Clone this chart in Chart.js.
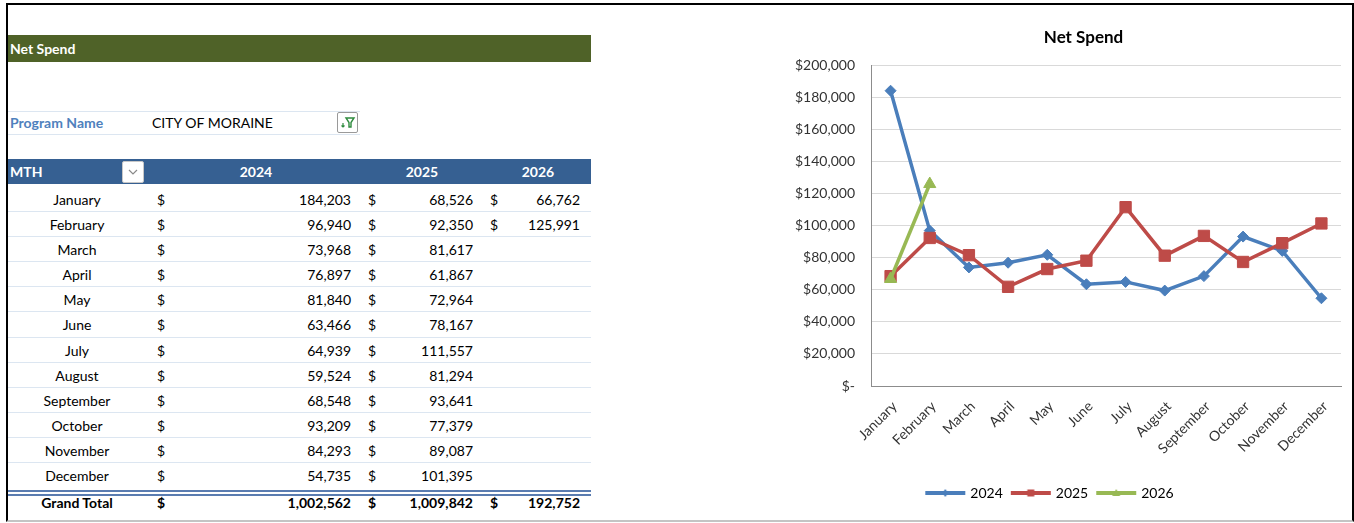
<!DOCTYPE html>
<html>
<head>
<meta charset="utf-8">
<script src="https://cdn.jsdelivr.net/npm/chart.js@4"></script>
<style>
  html, body { margin: 0; padding: 0; background: #fff; width: 1354px; height: 523px; overflow: hidden;
    font-family: Lato, "Open Sans", sans-serif; font-size: 14px; color: #000; }
  .abs { position: absolute; white-space: nowrap; }
  #frame { position: absolute; left: 6px; top: 3px; width: 1344px; height: 515px;
    border: 2px solid #000; border-bottom: 2px solid #c4c4c4; pointer-events: none; z-index: 5; }
  #band { left: 8px; top: 35px; width: 583px; height: 27px; background: #4F6228; color: #fff;
    font-weight: bold; line-height: 27px; padding-left: 2px; box-sizing: border-box; }
  #prog { left: 8px; top: 111px; width: 352px; height: 22px; border-top: 1px solid #DCE6F1; border-bottom: 1px solid #DCE6F1; }
  .btn { background: #fff; border: 1px solid #9a9a9a; border-radius: 2px; box-sizing: border-box; }
  #head { left: 8px; top: 159px; width: 583px; height: 25px; background: #366092; }
  .hd { color: #fff; font-weight: bold; line-height: 25px; top: 159px; }
  .row { left: 8px; width: 583px; border-bottom: 1px solid #DCE6F1; box-sizing: border-box; }
  #chartBox { left: 760px; top: 10px; }
</style>
</head>
<body>
<div id="frame"></div>
<div class="abs" id="band">Net Spend</div>
<div class="abs" id="prog"></div>
<div class="abs" style="left:10px;top:111px;line-height:24px;color:#4F81BD;font-weight:bold;">Program Name</div>
<div class="abs" style="left:152px;top:111px;line-height:24px;">CITY OF MORAINE</div>
<div class="abs btn" style="left:337px;top:112px;width:21px;height:21px;">
  <svg width="19" height="19" viewBox="0 0 19 19">
    <path d="M8 5 L16 5 L13 9.5 L13 14 L11 14 L11 9.5 Z" fill="none" stroke="#2E8B3E" stroke-width="1.4"/>
    <path d="M5 10 L5 14 M3.5 12.5 L5 14 L6.5 12.5" fill="none" stroke="#2E8B3E" stroke-width="1.2"/>
  </svg>
</div>
<div class="abs" id="head"></div>
<div class="abs hd" style="left:10px;">MTH</div>
<div class="abs btn" style="left:122px;top:161px;width:22px;height:22px;border-color:#c8c8c8;">
  <svg width="20" height="20" viewBox="0 0 20 20"><path d="M6 8 L10 12 L14 8" fill="none" stroke="#8a8a8a" stroke-width="1.2"/></svg>
</div>
<div id="rows"></div>
<div class="abs" id="chartBox"><canvas id="chart" width="592" height="505"></canvas></div>

<script>
const months = ['January', 'February', 'March', 'April', 'May', 'June', 'July',
  'August', 'September', 'October', 'November', 'December'];
const years = ['2024', '2025', '2026'];
const spend2024 = [184203, 96940, 73968, 76897, 81840, 63466, 64939, 59524, 68548, 93209, 84293, 54735];
const spend2025 = [68526, 92350, 81617, 61867, 72964, 78167, 111557, 81294, 93641, 77379, 89087, 101395];
const spend2026 = [66762, 125991];
const grandTotals = [1002562, 1009842, 192752];

const fmt = v => v.toLocaleString('en-US');

// pivot table
const rows = document.getElementById('rows');
const headCenters = [256, 422, 538];
years.forEach((y, i) => {
  rows.insertAdjacentHTML('beforeend',
    `<div class="abs hd" style="left:${headCenters[i] - 40}px;width:80px;text-align:center;">${y}</div>`);
});
const dollarX = [157, 368, 490];
const valueEnd = [351, 473, 580];
const series = [spend2024, spend2025, spend2026];
function addRow(top, h, name, vals, bold, sep) {
  let html = `<div class="abs row" style="top:${top}px;height:${h}px;${sep ? '' : 'border-bottom:none;'}"></div>`;
  const st = `top:${top}px;line-height:${h}px;${bold ? 'font-weight:bold;' : ''}`;
  html += `<div class="abs" style="${st}left:6px;width:142px;text-align:center;">${name}</div>`;
  vals.forEach((v, i) => {
    if (v === undefined) return;
    html += `<div class="abs" style="${st}left:${dollarX[i]}px;">$</div>`;
    html += `<div class="abs" style="${st}left:${valueEnd[i] - 120}px;width:120px;text-align:right;">${fmt(v)}</div>`;
  });
  rows.insertAdjacentHTML('beforeend', html);
}
const rowH = 25.18;
months.forEach((m, i) => {
  addRow(186.5 + i * rowH, rowH, m, series.map(s => s[i]), false, i < months.length - 1);
});
rows.insertAdjacentHTML('beforeend',
  '<div class="abs" style="left:8px;top:490px;width:583px;height:2px;background:#5A7CB0;"></div>' +
  '<div class="abs" style="left:8px;top:494px;width:583px;height:2px;background:#5A7CB0;"></div>');
addRow(490, 25, 'Grand Total', grandTotals, true, false);

// chart
const colors = ['#4A7EBB', '#BE4B48', '#98B954'];

function legendIcon(i) {
  const c = document.createElement('canvas');
  c.width = 42; c.height = 12;
  const g = c.getContext('2d');
  g.strokeStyle = colors[i]; g.fillStyle = colors[i]; g.lineWidth = 4;
  g.beginPath(); g.moveTo(1, 6); g.lineTo(41, 6); g.stroke();
  g.beginPath();
  if (i === 0) { g.moveTo(21, 2); g.lineTo(24, 6); g.lineTo(21, 10); g.lineTo(18, 6); }
  else if (i === 1) { g.rect(17.5, 2.5, 7, 7); }
  else { g.moveTo(21, 2); g.lineTo(25, 9); g.lineTo(17, 9); }
  g.closePath(); g.fill();
  return c;
}
const icons = [0, 1, 2].map(legendIcon);

// Excel puts the title a little right of the legend centre
const shiftTitle = {
  id: 'shiftTitle',
  afterLayout(chart) {
    const t = chart.titleBlock;
    if (t) { t.left += 33; t.right += 33; }
  }
};

Chart.defaults.font.family = 'Lato, "Open Sans", sans-serif';

new Chart(document.getElementById('chart'), {
  type: 'line',
  data: {
    labels: months,
    datasets: [
      { label: years[0], data: spend2024, borderColor: colors[0], backgroundColor: colors[0],
        pointStyle: 'rectRot', pointRadius: 5.5, order: 3 },
      { label: years[1], data: spend2025, borderColor: colors[1], backgroundColor: colors[1],
        pointStyle: 'rect', pointRadius: 8, order: 2 },
      { label: years[2], data: spend2026, borderColor: colors[2], backgroundColor: colors[2],
        pointStyle: 'triangle', pointRadius: 7, order: 1 }
    ]
  },
  options: {
    responsive: false,
    animation: false,
    layout: { padding: { left: 0, right: 11, top: 0, bottom: 5 } },
    elements: {
      line: { borderWidth: 3.5, tension: 0 },
      point: { borderWidth: 1 }
    },
    scales: {
      x: {
        offset: true,
        grid: { color: 'transparent', drawTicks: false },
        border: { color: '#8c8c8c', width: 1 },
        ticks: { minRotation: 45, maxRotation: 45, padding: 12, labelOffset: 4, color: '#333', font: { size: 14 } },
        afterFit: s => { s.height = 90; }
      },
      y: {
        min: 0, max: 200000,
        grid: { color: '#D9D9D9', drawTicks: false },
        border: { color: '#8c8c8c', width: 1 },
        ticks: {
          stepSize: 20000, padding: 16, color: '#333', font: { size: 14 },
          callback: v => v === 0 ? '$-' : '$' + fmt(v)
        },
        afterFit: s => { s.width = 111; }
      }
    },
    plugins: {
      title: { display: true, text: 'Net Spend', color: '#000', font: { size: 17, weight: 'bold' },
        padding: { top: 17, bottom: 18 } },
      legend: {
        position: 'bottom',
        labels: {
          usePointStyle: true, pointStyleWidth: 36, padding: 10, color: '#000', font: { size: 14 },
          sort: (a, b) => a.datasetIndex - b.datasetIndex,
          generateLabels: chart => Chart.defaults.plugins.legend.labels.generateLabels(chart)
            .map(l => Object.assign(l, { pointStyle: icons[l.datasetIndex] }))
        }
      },
      tooltip: { enabled: false }
    }
  },
  plugins: [shiftTitle]
});
</script>
</body>
</html>
